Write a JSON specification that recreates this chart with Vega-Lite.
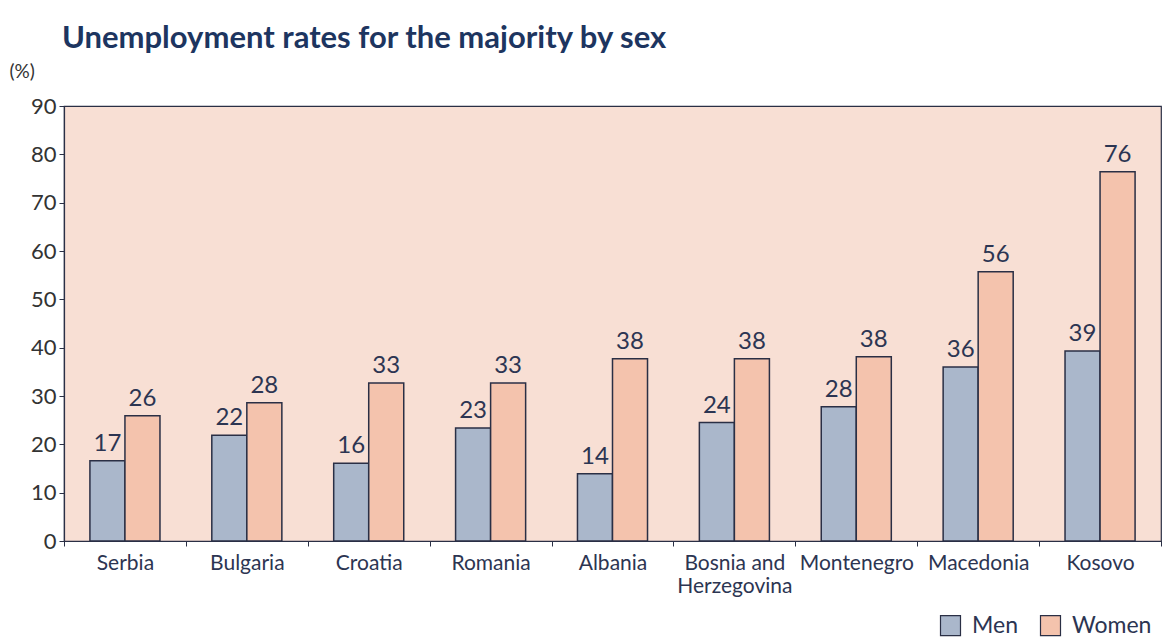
{
  "$schema": "https://vega.github.io/schema/vega-lite/v6.json",
  "width": 1097,
  "height": 435,
  "autosize": {"type": "none"},
  "padding": {"left": 64, "top": 106, "right": 7, "bottom": 96},
  "background": "white",
  "config": {
    "font": "Lato",
    "view": {"fill": "#f8dfd4", "stroke": "#2a2f45", "strokeWidth": 1.2}
  },
  "title": {
    "text": "Unemployment rates for the majority by sex",
    "anchor": "start",
    "frame": "group",
    "fontSize": 31,
    "fontWeight": "bold",
    "color": "#1d3560",
    "offset": 7,
    "dx": -2
  },
  "data": {
    "values": [
      {"country": "Serbia", "sex": "Men", "value": 16.6, "label": "17"},
      {"country": "Serbia", "sex": "Women", "value": 25.9, "label": "26"},
      {"country": "Bulgaria", "sex": "Men", "value": 21.9, "label": "22"},
      {"country": "Bulgaria", "sex": "Women", "value": 28.6, "label": "28"},
      {"country": "Croatia", "sex": "Men", "value": 16.1, "label": "16"},
      {"country": "Croatia", "sex": "Women", "value": 32.7, "label": "33"},
      {"country": "Romania", "sex": "Men", "value": 23.4, "label": "23"},
      {"country": "Romania", "sex": "Women", "value": 32.7, "label": "33"},
      {"country": "Albania", "sex": "Men", "value": 13.9, "label": "14"},
      {"country": "Albania", "sex": "Women", "value": 37.7, "label": "38"},
      {"country": "Bosnia and Herzegovina", "sex": "Men", "value": 24.5, "label": "24"},
      {"country": "Bosnia and Herzegovina", "sex": "Women", "value": 37.7, "label": "38"},
      {"country": "Montenegro", "sex": "Men", "value": 27.8, "label": "28"},
      {"country": "Montenegro", "sex": "Women", "value": 38.1, "label": "38"},
      {"country": "Macedonia", "sex": "Men", "value": 36, "label": "36"},
      {"country": "Macedonia", "sex": "Women", "value": 55.7, "label": "56"},
      {"country": "Kosovo", "sex": "Men", "value": 39.3, "label": "39"},
      {"country": "Kosovo", "sex": "Women", "value": 76.4, "label": "76"}
    ]
  },
  "encoding": {
    "x": {
      "field": "country",
      "type": "nominal",
      "sort": null,
      "scale": {"paddingInner": 0, "paddingOuter": 0},
      "axis": {
        "title": null,
        "labelAngle": 0,
        "labelFontSize": 21,
        "labelColor": "#2c3552",
        "labelPadding": 6,
        "labelLimit": 0,
        "labelOverlap": false,
        "labelLineHeight": 23,
        "labelExpr": "datum.label == 'Bosnia and Herzegovina' ? ['Bosnia and', 'Herzegovina'] : datum.label",
        "tickBand": "extent",
        "tickSize": 5,
        "tickColor": "#2a2f45",
        "domainColor": "#2a2f45",
        "domainWidth": 1.2
      }
    },
    "xOffset": {
      "field": "sex",
      "type": "nominal",
      "sort": ["Men", "Women"],
      "scale": {"paddingInner": 0, "paddingOuter": 0.74}
    },
    "y": {
      "field": "value",
      "type": "quantitative",
      "scale": {"domain": [0, 90]},
      "axis": {
        "values": [0, 10, 20, 30, 40, 50, 60, 70, 80, 90],
        "grid": false,
        "title": "(%)",
        "titleAngle": 0,
        "titleAlign": "left",
        "titleBaseline": "alphabetic",
        "titleX": -55,
        "titleY": -29,
        "titleFontSize": 19,
        "titleFontWeight": "normal",
        "titleColor": "#333",
        "labelFontSize": 22,
        "labelColor": "#333",
        "labelPadding": 3,
        "tickSize": 5,
        "tickColor": "#2a2f45",
        "domainColor": "#2a2f45",
        "domainWidth": 1.2
      }
    }
  },
  "layer": [
    {
      "mark": {"type": "bar", "stroke": "#2a2f45", "strokeWidth": 1.5},
      "encoding": {
        "color": {
          "field": "sex",
          "type": "nominal",
          "scale": {"domain": ["Men", "Women"], "range": ["#aab7cb", "#f4c3ad"]},
          "legend": {
            "orient": "none",
            "legendX": 875,
            "legendY": 508,
            "direction": "horizontal",
            "title": null,
            "symbolType": "square",
            "symbolSize": 400,
            "symbolStrokeColor": "#2a2f45",
            "symbolStrokeWidth": 1.2,
            "symbolOpacity": 1,
            "labelFontSize": 23,
            "labelColor": "#2c3552",
            "labelOffset": 10,
            "columnPadding": 20,
            "padding": 0
          }
        }
      }
    },
    {
      "mark": {"type": "text", "dy": -10, "fontSize": 24, "color": "#2c3552", "baseline": "alphabetic"},
      "encoding": {"text": {"field": "label"}}
    }
  ]
}
